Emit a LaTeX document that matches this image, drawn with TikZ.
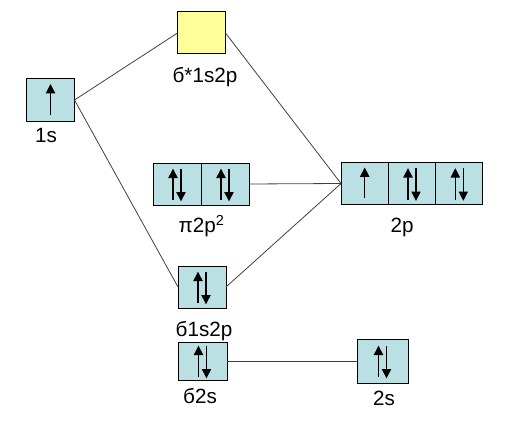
\documentclass[tikz,border=0pt]{standalone}
\usepackage{fontspec}
\setmainfont{Liberation Sans}
\usetikzlibrary{arrows.meta}
\definecolor{orbblue}{HTML}{BBE0E3}
\definecolor{orbyellow}{HTML}{FFFF99}
\tikzset{
  orb/.style={draw=black, line width=0.75pt, fill=orbblue, minimum width=36pt, minimum height=31.5pt, inner sep=0pt, outer sep=0pt},
  orbY/.style={orb, fill=orbyellow},
  lbl/.style={anchor=base, inner sep=0pt, font=\fontsize{15.5}{18}\selectfont},
  spin/.style={line width=0.8pt, -{Triangle[width=7pt,length=7pt]}},
  conn/.style={draw=black!75, line width=0.6pt}
}
\newcommand\spinup[1]{\draw[spin] ([yshift=-11pt]#1.center) -- ([yshift=12pt]#1.center);}
\newcommand\spinpair[1]{%
  \draw[spin] ([xshift=-3pt,yshift=-12pt]#1.center) -- ([xshift=-3pt,yshift=11.5pt]#1.center);
  \draw[spin] ([xshift=3pt,yshift=11.5pt]#1.center) -- ([xshift=3pt,yshift=-13pt]#1.center);}
\begin{document}
\begin{tikzpicture}[x=0.75pt,y=-0.75pt]
\useasboundingbox (0,0) rectangle (516,431);
% boxes
\node[orbY] (ss) at (201.5,33) {};
\node[orb] (s1) at (50.5,100) {};
\node[orb] (pa) at (177,184) {};
\node[orb] (pb) at (225,184) {};
\node[orb, minimum width=35.5pt] (p1) at (364.7,183.5) {};
\node[orb, minimum width=35.5pt] (p2) at (412,183.5) {};
\node[orb, minimum width=35.5pt] (p3) at (459.3,183.5) {};
\node[orb] (sb) at (202,287) {};
\node[orb, minimum width=36.75pt, minimum height=28.5pt] (s2b) at (202.5,361) {};
\node[orb, minimum width=38.25pt, minimum height=33pt] (s2) at (382.5,361) {};
% labels
\node[lbl] (lss) at (205,83) {б*1s2p};
\node[lbl] (ls1) at (46,142) {1s};
\node[lbl] (lp) at (201.5,232) {π2p\textsuperscript{2}};
\node[lbl] (l2p) at (402,232) {2p};
\node[lbl] (lsb) at (204,336) {б1s2p};
\node[lbl] (ls2b) at (200,403) {б2s};
\node[lbl] (ls2) at (384,405) {2s};
% connectors
\draw[conn] (s1.east) -- (ss.west);
\draw[conn] (s1.east) -- (sb.west);
\draw[conn] (ss.east) -- (p1.west);
\draw[conn] (pb.east) -- (p1.west);
\draw[conn] (sb.east) -- (p1.west);
\draw[conn] (s2b.east) -- (s2.west);
% spins
\spinup{s1}
\spinpair{pa}
\spinpair{pb}
\spinup{p1}
\spinpair{p2}
\spinpair{p3}
\spinpair{sb}
\spinpair{s2b}
\spinpair{s2}
\end{tikzpicture}
\end{document}
